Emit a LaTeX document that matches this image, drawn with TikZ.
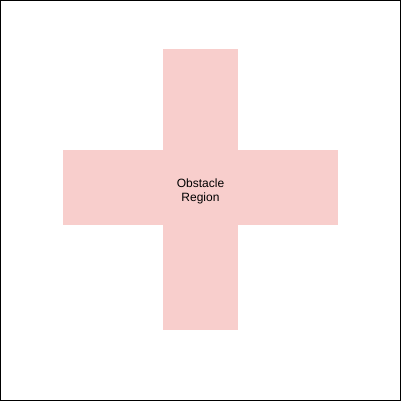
\documentclass[tikz,border=0pt]{standalone}
\usepackage{fontspec}
\setmainfont{Liberation Sans}
\definecolor{obst}{HTML}{F8CECC}
\tikzset{obstacle/.style={fill=obst,draw=none}}
\begin{document}
\begin{tikzpicture}[x=1pt,y=-1pt]
\useasboundingbox (0,0) rectangle (401,401);
\fill[white] (0,0) rectangle (401,401);
\draw[black,line width=1pt] (0.5,0.5) rectangle (400.5,400.5);
\fill[obstacle] (163,49) rectangle (238,330);
\fill[obstacle] (63,150) rectangle (338,225);
\node[align=center,font=\fontsize{12}{14}\selectfont,inner sep=0pt] (label) at (200.5,191) {Obstacle\\Region};
\end{tikzpicture}
\end{document}
